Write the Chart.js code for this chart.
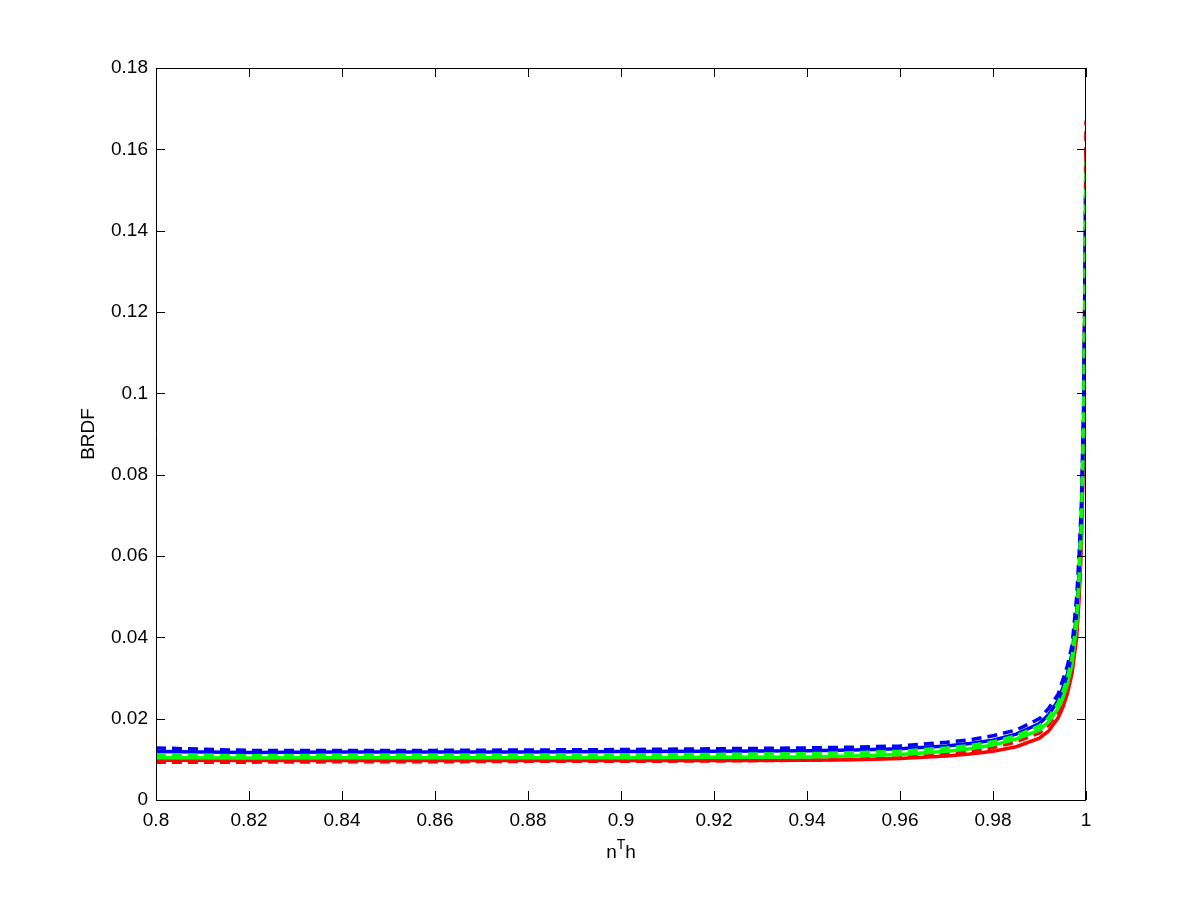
<!DOCTYPE html>
<html>
<head>
<meta charset="utf-8">
<script src="https://cdn.jsdelivr.net/npm/chart.js@4.4.1/dist/chart.umd.min.js"></script>
<style>
  html, body { margin: 0; padding: 0; background: #fff; }
  #wrap { width: 1200px; height: 900px; }
</style>
</head>
<body>
<div id="wrap"><canvas id="chartBrdf" width="1200" height="900"></canvas></div>
<script>
// nTh samples (x axis)
const nth = [0.8, 0.82, 0.84, 0.86, 0.88, 0.9, 0.92, 0.94, 0.95, 0.96, 0.97, 0.975, 0.98, 0.985,
             0.99, 0.992, 0.994, 0.995, 0.996, 0.997, 0.998, 0.9985, 0.999, 0.9995, 1.0];

// BRDF values
const redSolid    = [0.0098, 0.0097, 0.0097, 0.0097, 0.0097, 0.0097, 0.0097, 0.0098, 0.0099, 0.0102, 0.0108, 0.0113, 0.0120, 0.0131,
                     0.0152, 0.0170, 0.0202, 0.0227, 0.0262, 0.0312, 0.0400, 0.0490, 0.0620, 0.0880, 0.1600];
const redDashed   = [0.0093, 0.0093, 0.0094, 0.0094, 0.0095, 0.0095, 0.0096, 0.0098, 0.0100, 0.0104, 0.0113, 0.0120, 0.0129, 0.0143,
                     0.0165, 0.0185, 0.0218, 0.0243, 0.0280, 0.0330, 0.0420, 0.0520, 0.0650, 0.0920, 0.1670];
const greenSolid  = [0.0104, 0.0103, 0.0104, 0.0104, 0.0104, 0.0104, 0.0105, 0.0106, 0.0108, 0.0112, 0.0120, 0.0126, 0.0135, 0.0150,
                     0.0172, 0.0192, 0.0225, 0.0250, 0.0285, 0.0335, 0.0430, 0.0530, 0.0660, 0.0920, 0.1500];
const greenDashed = [0.0111, 0.0109, 0.0110, 0.0110, 0.0110, 0.0111, 0.0112, 0.0114, 0.0116, 0.0120, 0.0128, 0.0134, 0.0143, 0.0158,
                     0.0182, 0.0203, 0.0238, 0.0265, 0.0300, 0.0350, 0.0450, 0.0550, 0.0680, 0.0950, 0.1570];
const blueSolid   = [0.0119, 0.0117, 0.0118, 0.0118, 0.0118, 0.0119, 0.0120, 0.0121, 0.0123, 0.0126, 0.0133, 0.0139, 0.0147, 0.0162,
                     0.0188, 0.0210, 0.0245, 0.0275, 0.0310, 0.0360, 0.0460, 0.0560, 0.0690, 0.0940, 0.1450];
const blueDashed  = [0.0128, 0.0122, 0.0122, 0.0122, 0.0123, 0.0124, 0.0126, 0.0128, 0.0130, 0.0133, 0.0142, 0.0148, 0.0158, 0.0172,
                     0.0200, 0.0226, 0.0260, 0.0295, 0.0330, 0.0380, 0.0500, 0.0600, 0.0725, 0.0980, 0.1480];

const xTickValues = [0.8, 0.82, 0.84, 0.86, 0.88, 0.9, 0.92, 0.94, 0.96, 0.98, 1];
const xTickLabels = ['0.8', '0.82', '0.84', '0.86', '0.88', '0.9', '0.92', '0.94', '0.96', '0.98', '1'];
const yTickValues = [0, 0.02, 0.04, 0.06, 0.08, 0.1, 0.12, 0.14, 0.16, 0.18];
const yTickLabels = ['0', '0.02', '0.04', '0.06', '0.08', '0.1', '0.12', '0.14', '0.16', '0.18'];

const FONT = '"Liberation Sans", Arial, Helvetica, sans-serif';
const DASH = [10, 6];

const pts = arr => nth.map((x, i) => ({ x, y: arr[i] }));
const series = (data, color, dashed) => ({
    data: pts(data),
    borderColor: color,
    backgroundColor: color,
    borderWidth: 3.5,
    borderDash: dashed ? DASH : [],
    pointRadius: 0,
    tension: 0,
    fill: false
});

// box, inward ticks and axis titles, MATLAB style
const matlabAxes = {
    id: 'matlabAxes',
    afterDraw(chart) {
        const { ctx, chartArea: a, scales } = chart;
        const t = 9;
        ctx.save();
        ctx.strokeStyle = '#000';
        ctx.lineWidth = 1;
        ctx.beginPath();
        ctx.rect(a.left + 0.5, a.top + 0.5, a.right - a.left - 1, a.bottom - a.top);
        xTickValues.forEach(v => {
            const px = Math.round(scales.x.getPixelForValue(v)) + 0.5;
            ctx.moveTo(px, a.bottom); ctx.lineTo(px, a.bottom - t);
            ctx.moveTo(px, a.top); ctx.lineTo(px, a.top + t);
        });
        yTickValues.forEach(v => {
            const py = Math.round(scales.y.getPixelForValue(v)) + 0.5;
            ctx.moveTo(a.left, py); ctx.lineTo(a.left + t, py);
            ctx.moveTo(a.right, py); ctx.lineTo(a.right - t, py);
        });
        ctx.stroke();

        ctx.fillStyle = '#000';
        // y title
        ctx.save();
        ctx.translate(94, (a.top + a.bottom) / 2);
        ctx.rotate(-Math.PI / 2);
        ctx.font = '19px ' + FONT;
        ctx.textAlign = 'center';
        ctx.textBaseline = 'alphabetic';
        ctx.fillText('BRDF', 0, 0);
        ctx.restore();

        // x title: n^T h
        const big = '19px ' + FONT, small = '14px ' + FONT;
        ctx.font = big;
        const wn = ctx.measureText('n').width, wh = ctx.measureText('h').width;
        ctx.font = small;
        const wt = ctx.measureText('T').width;
        let x0 = (a.left + a.right) / 2 - (wn + wt + wh) / 2;
        const base = 858;
        ctx.textAlign = 'left';
        ctx.font = big; ctx.fillText('n', x0, base); x0 += wn;
        ctx.font = small; ctx.fillText('T', x0, base - 9); x0 += wt;
        ctx.font = big; ctx.fillText('h', x0, base);
        ctx.restore();
    }
};

new Chart(document.getElementById('chartBrdf').getContext('2d'), {
    type: 'line',
    data: {
        datasets: [
            series(greenDashed, '#00ff00', true),
            series(blueDashed, '#0000ff', true),
            series(blueSolid, '#0000ff', false),
            series(greenSolid, '#00ff00', false),
            series(redDashed, '#ff0000', true),
            series(redSolid, '#ff0000', false)
        ]
    },
    options: {
        responsive: false,
        animation: false,
        layout: { padding: { top: 68, right: 114, left: 0, bottom: 0 } },
        plugins: { legend: { display: false }, tooltip: { enabled: false } },
        scales: {
            x: {
                type: 'linear',
                min: 0.8, max: 1,
                afterBuildTicks: s => { s.ticks = xTickValues.map(v => ({ value: v })); },
                afterFit: s => { s.height = 100; },
                grid: { display: false, drawTicks: false, tickLength: 0 },
                border: { display: false },
                ticks: {
                    color: '#000', padding: 9, maxRotation: 0, autoSkip: false,
                    font: { family: FONT, size: 19 },
                    callback: (v, i) => xTickLabels[i]
                }
            },
            y: {
                min: 0, max: 0.18,
                afterBuildTicks: s => { s.ticks = yTickValues.map(v => ({ value: v })); },
                afterFit: s => { s.width = 156; },
                grid: { display: false, drawTicks: false, tickLength: 0 },
                border: { display: false },
                ticks: {
                    color: '#000', padding: 8, autoSkip: false,
                    font: { family: FONT, size: 19 },
                    callback: (v, i) => yTickLabels[i]
                }
            }
        }
    },
    plugins: [matlabAxes]
});
</script>
</body>
</html>
